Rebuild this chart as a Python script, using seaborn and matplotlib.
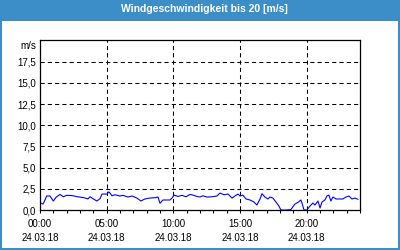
import numpy as np
import pandas as pd
import matplotlib
matplotlib.use("Agg")
import matplotlib.pyplot as plt
from matplotlib.patches import Rectangle
from matplotlib.ticker import MultipleLocator, FixedLocator
import seaborn as sns

title = "Windgeschwindigkeit bis 20 [m/s]"
date_label = "24.03.18"
xtick_labels = ["00:00", "05:00", "10:00", "15:00", "20:00"]
ytick_labels = ["0,0", "2,5", "5,0", "7,5", "10,0", "12,5", "15,0", "17,5"]
unit_label = "m/s"

times = [
    "00:00", "00:14", "00:30", "00:45", "01:00", "01:12", "01:30", "01:45",
    "02:00", "02:24", "02:50", "03:18", "03:36", "03:45", "04:03", "04:16",
    "04:30", "04:39", "05:01", "05:10", "05:24", "05:37", "06:00", "06:13",
    "06:36", "06:54", "07:16", "07:34", "07:52", "08:15", "08:37", "08:51",
    "09:00", "09:13", "09:45", "09:54", "10:03", "10:21", "10:39", "10:57",
    "11:15", "11:28", "11:46", "12:00", "12:13", "12:31", "12:54", "13:16",
    "13:30", "13:48", "14:06", "14:24", "14:37", "14:51", "15:00", "15:13",
    "15:27", "15:45", "16:03", "16:16", "16:30", "16:39", "16:52", "17:06",
    "17:15", "17:28", "17:42", "17:55", "18:04", "18:30", "18:49", "19:07",
    "19:21", "19:34", "19:39", "19:48", "20:01", "20:15", "20:28", "20:37",
    "20:51", "21:00", "21:09", "21:22", "21:31", "21:40", "21:49", "21:58",
    "22:12", "22:25", "22:43", "22:57", "23:10", "23:24", "23:37", "23:51",
]
speed = [
    0.86, 0.70, 1.65, 1.65, 1.06, 1.50, 1.84, 1.56,
    1.73, 1.70, 1.56, 1.45, 1.30, 1.56, 1.26, 1.06,
    1.33, 1.88, 1.88, 2.15, 1.68, 1.80, 1.65, 1.73,
    1.53, 1.65, 1.41, 1.06, 1.30, 1.41, 1.45, 1.53,
    0.79, 1.18, 1.18, 1.41, 1.76, 1.60, 1.73, 1.56,
    1.84, 1.76, 1.60, 1.53, 1.68, 1.53, 1.56, 1.65,
    2.00, 1.80, 1.88, 1.41, 1.65, 1.88, 1.65, 1.76,
    1.30, 1.18, 0.94, 0.59, 1.30, 1.92, 1.53, 1.30,
    1.53, 1.41, 0.94, 0.47, 0.00, 0.00, 0.05, 0.70,
    0.90, 1.18, 0.82, 0.00, 0.00, 0.47, 0.82, 0.59,
    1.06, 0.24, 0.94, 1.18, 1.65, 1.76, 1.06, 1.53,
    1.30, 1.30, 1.30, 1.53, 1.65, 1.30, 1.41, 1.26,
]

hours = [int(t[:2]) + int(t[3:]) / 60 for t in times]
df = pd.DataFrame({"hour": hours, "speed": speed})

sns.set_theme(style="white")
plt.rcParams["font.family"] = ["Liberation Sans", "DejaVu Sans"]

W, H = 400, 250
fig = plt.figure(figsize=(4, 2.5), dpi=100)
fig.patch.set_facecolor("white")
blue = "#3b8ec8"

ax = fig.add_axes([40 / W, 1 - 210 / H, 320 / W, 169.5 / H])
ax.set_facecolor("white")
sns.lineplot(data=df, x="hour", y="speed", ax=ax, color="#0000ff",
             linewidth=0.8, zorder=2)
ax.set_xlim(0, 24)
ax.set_ylim(0, 20)
ax.set_xlabel("")
ax.set_ylabel("")

# grid
for yv in np.arange(2.5, 20, 2.5):
    ax.axhline(yv, color="black", lw=0.75, dashes=(4, 3), zorder=1)
for xv in [5, 10, 15, 20]:
    ax.axvline(xv, color="black", lw=0.75, dashes=(4, 3), zorder=1)

ax.xaxis.set_major_locator(FixedLocator([0, 5, 10, 15, 20]))
ax.set_xticklabels([f"{t}\n{date_label}" for t in xtick_labels],
                   fontsize=7, linespacing=1.55)
ax.xaxis.set_minor_locator(MultipleLocator(1))
ax.tick_params(axis="x", which="both", direction="out", length=2.5,
               width=0.75, color="black", bottom=True, pad=4, labelcolor="black")

ax.set_yticks(np.arange(0, 20, 2.5))
ax.set_yticklabels(ytick_labels, fontsize=7)
ax.tick_params(axis="y", length=0, pad=3, labelcolor="black")
ax.text(-0.011, 19.4, unit_label, transform=ax.get_yaxis_transform(),
        ha="right", va="center", fontsize=7, color="black")

for s in ax.spines.values():
    s.set_color("black")
    s.set_linewidth(0.9)
    s.set_zorder(3)

# frame and title bar
fig.patches.append(Rectangle((0, 1 - 21 / H), 1, 21 / H, transform=fig.transFigure,
                             facecolor=blue, edgecolor="none", zorder=0))
fig.patches.append(Rectangle((0, 0), 2 / W, 1, transform=fig.transFigure,
                             facecolor=blue, edgecolor="none", zorder=0))
fig.patches.append(Rectangle((1 - 2 / W, 0), 2 / W, 1, transform=fig.transFigure,
                             facecolor=blue, edgecolor="none", zorder=0))
fig.patches.append(Rectangle((0, 0), 1, 2 / H, transform=fig.transFigure,
                             facecolor=blue, edgecolor="none", zorder=0))
fig.text(0.51, 1 - 12.5 / H, title, ha="center", va="baseline",
         color="white", fontsize=7.5, fontweight="bold")

fig.savefig("out.png", dpi=100, facecolor=fig.get_facecolor())
